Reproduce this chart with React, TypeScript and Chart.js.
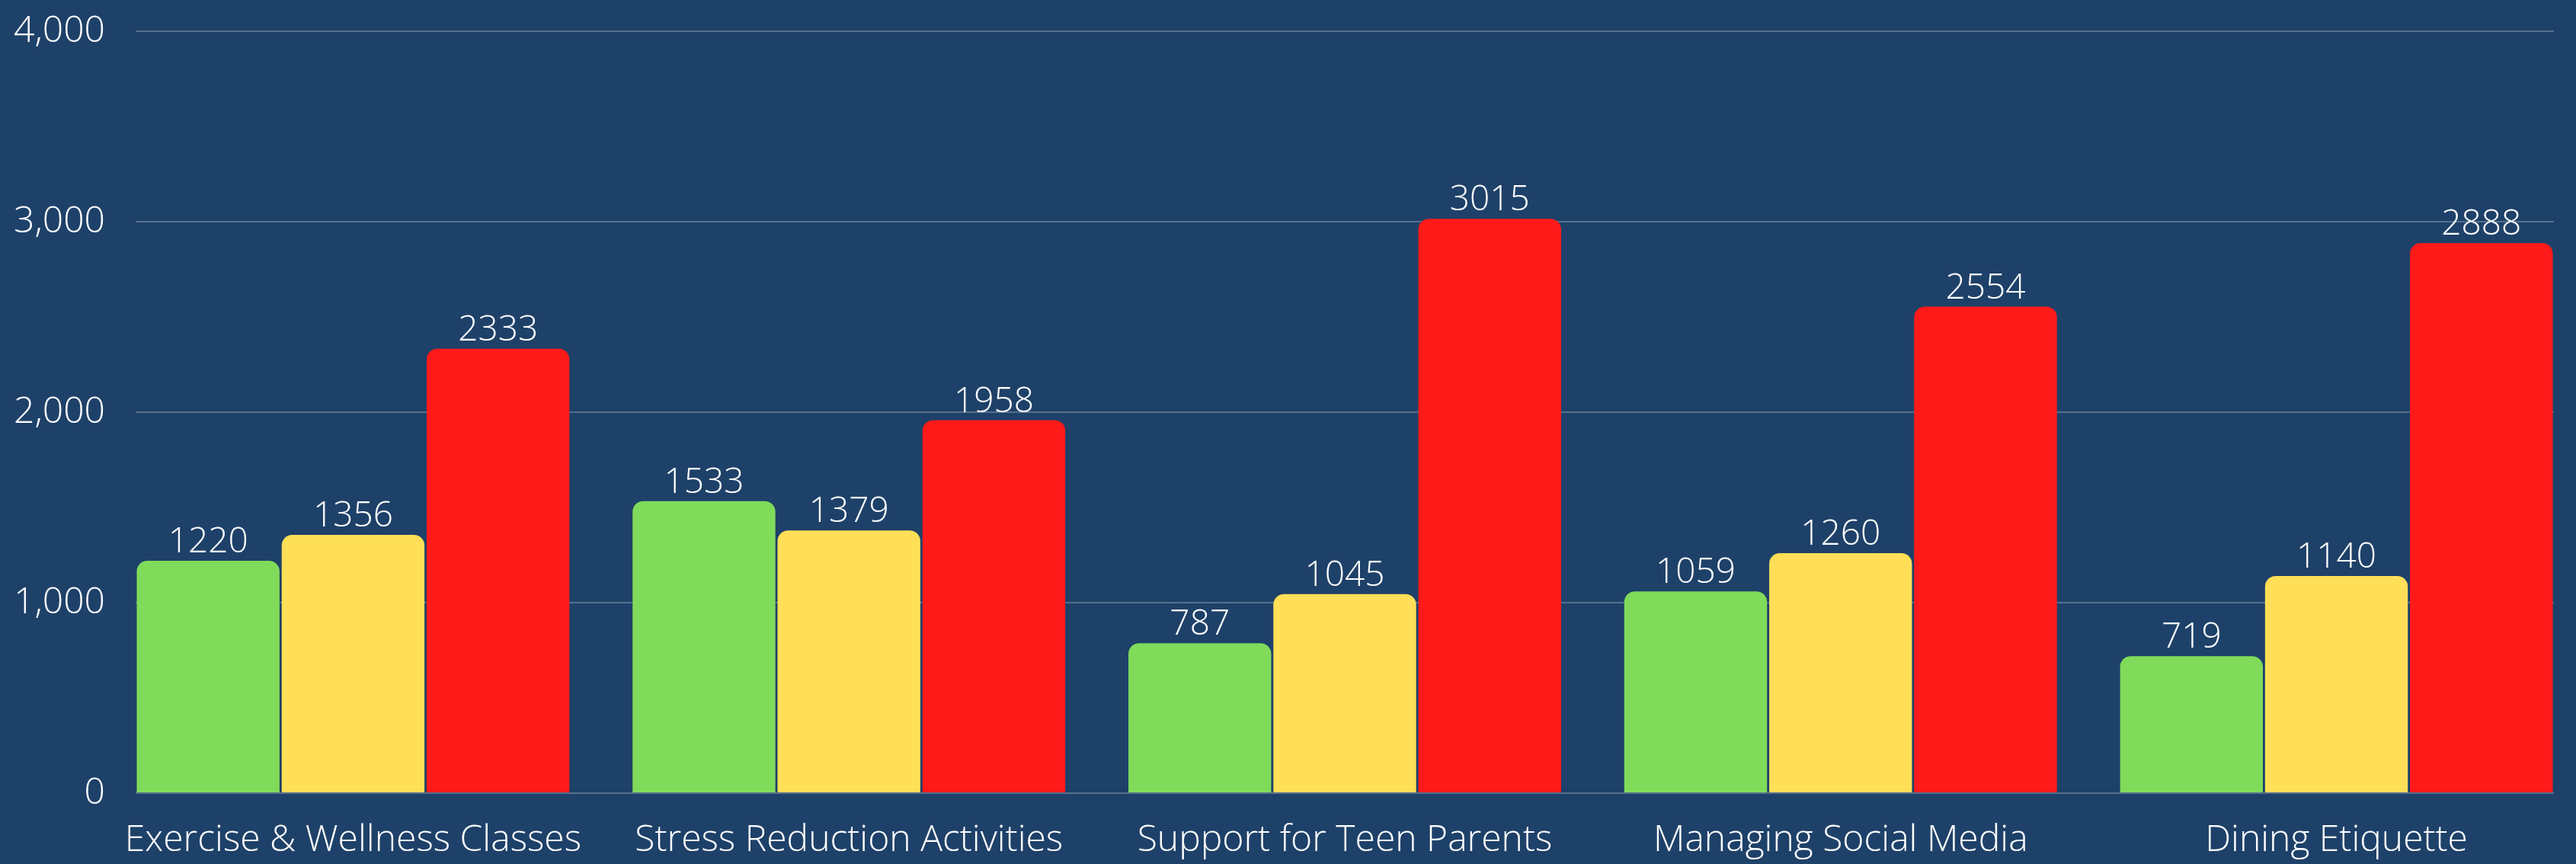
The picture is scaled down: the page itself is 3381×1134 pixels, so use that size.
import React, { useEffect, useRef } from "react";
import { Chart, registerables } from "chart.js";

Chart.register(...registerables);

const categories = [
  "Exercise & Wellness Classes",
  "Stress Reduction Activities",
  "Support for Teen Parents",
  "Managing Social Media",
  "Dining Etiquette",
];
const seriesGreen = [1220, 1533, 787, 1059, 719];
const seriesYellow = [1356, 1379, 1045, 1260, 1140];
const seriesRed = [2333, 1958, 3015, 2554, 2888];
const yTicks = [0, 1000, 2000, 3000, 4000];

const BG = "#1E4169";
const FONT = "'Open Sans', sans-serif";

const valueLabels = {
  id: "valueLabels",
  afterDatasetsDraw(chart: any) {
    const ctx = chart.ctx;
    ctx.save();
    ctx.fillStyle = "#FFFFFF";
    ctx.font = `300 46px ${FONT}`;
    ctx.textAlign = "center";
    ctx.textBaseline = "alphabetic";
    chart.data.datasets.forEach((ds: any, di: number) => {
      const meta = chart.getDatasetMeta(di);
      meta.data.forEach((bar: any, i: number) => {
        const v = ds.data[i].y;
        ctx.fillText(String(v), bar.x, bar.y - 11);
      });
    });
    ctx.restore();
  },
};

export default function App() {
  const ref = useRef<HTMLCanvasElement>(null);
  useEffect(() => {
    document.body.style.margin = "0";
    document.body.style.background = BG;
    const toPts = (arr: number[]) => arr.map((v, i) => ({ x: i, y: v }));
    const common = {
      categoryPercentage: 0.877,
      barPercentage: 0.985,
      borderRadius: 14,
      borderSkipped: "start",
    };
    const chart = new Chart(ref.current!, {
      type: "bar",
      data: {
        datasets: [
          { label: "A", data: toPts(seriesGreen), backgroundColor: "#80DB5A", ...common },
          { label: "B", data: toPts(seriesYellow), backgroundColor: "#FFDF57", ...common },
          { label: "C", data: toPts(seriesRed), backgroundColor: "#FF1A1A", ...common },
        ] as any,
      },
      options: {
        responsive: false,
        animation: false,
        layout: { padding: { top: 41, right: 29, left: 0, bottom: 0 } },
        plugins: { legend: { display: false }, tooltip: { enabled: false } },
        scales: {
          x: {
            type: "linear",
            min: -0.4386,
            max: 4.4386,
            bounds: "data",
            offset: false,
            grid: { display: false, drawTicks: false },
            border: { display: false },
            afterBuildTicks: (scale: any) => {
              scale.ticks = categories.map((_, i) => ({ value: i }));
            },
            afterFit: (scale: any) => {
              scale.height = 93;
              scale.paddingLeft = 0;
              scale.paddingRight = 0;
            },
            ticks: {
              autoSkip: false,
              maxRotation: 0,
              color: "#FFFFFF",
              padding: 34,
              font: { family: FONT, size: 48, weight: "300" },
              callback: (v: any) => categories[Math.round(Number(v))] ?? "",
            },
          },
          y: {
            min: 0,
            max: 4000,
            afterBuildTicks: (scale: any) => {
              scale.ticks = yTicks.map((v) => ({ value: v }));
            },
            afterFit: (scale: any) => {
              scale.width = 178;
              scale.paddingTop = 0;
              scale.paddingBottom = 0;
            },
            grid: { color: "rgba(255,255,255,0.25)", lineWidth: 2, drawTicks: false },
            border: { display: false },
            ticks: {
              color: "#FFFFFF",
              padding: 40,
              font: { family: FONT, size: 48, weight: "300" },
              callback: (v: any) => Number(v).toLocaleString("en-US"),
            },
          },
        },
      } as any,
      plugins: [valueLabels],
    });
    return () => chart.destroy();
  }, []);
  return (
    <div style={{ width: 3381, height: 1134, background: BG }}>
      <canvas ref={ref} width={3381} height={1134} style={{ display: "block" }} />
    </div>
  );
}
